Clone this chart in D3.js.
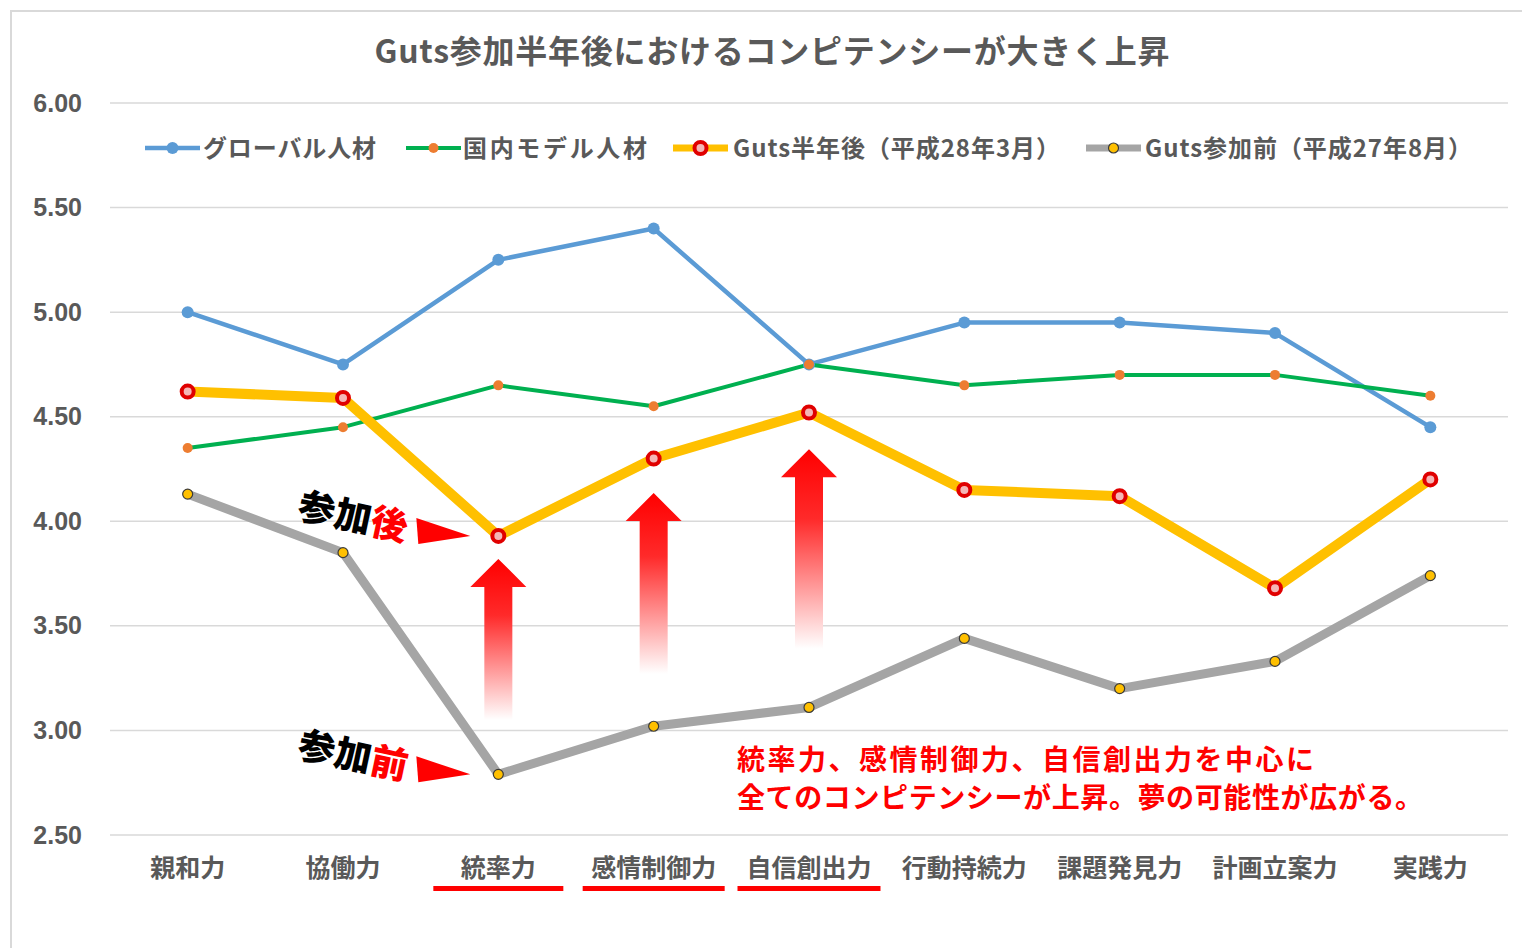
<!DOCTYPE html>
<meta charset="utf-8">
<style>
body { margin: 0; background: #fff; }
text { font-family: "Noto Sans CJK JP", "Noto Sans", sans-serif; }
.grid line { stroke: #d9d9d9; stroke-width: 1.5px; }
.axis-y text { font-family: "Liberation Sans", Arial, sans-serif; font-weight: bold; fill: #595959; font-size: 25px; }
.cat text { font-weight: bold; fill: #595959; font-size: 25px; }
</style>
<svg width="1522" height="948"></svg>
<script src="https://d3js.org/d3.v7.min.js"></script>
<script>

var categories = ["親和力", "協働力", "統率力", "感情制御力", "自信創出力", "行動持続力", "課題発見力", "計画立案力", "実践力"];
var globalTalent = [5.00, 4.75, 5.25, 5.40, 4.75, 4.95, 4.95, 4.90, 4.45];
var domesticTalent = [4.35, 4.45, 4.65, 4.55, 4.75, 4.65, 4.70, 4.70, 4.60];
var gutsAfter = [4.62, 4.59, 3.93, 4.30, 4.52, 4.15, 4.12, 3.68, 4.20];
var gutsBefore = [4.13, 3.85, 2.79, 3.02, 3.11, 3.44, 3.20, 3.33, 3.74];
var yTicks = [2.5, 3.0, 3.5, 4.0, 4.5, 5.0, 5.5, 6.0];
var highlighted = ["統率力", "感情制御力", "自信創出力"];

var svg = d3.select("svg");

// outer frame
svg.append("path")
    .attr("d", "M11,948V11H1522")
    .attr("fill", "none")
    .attr("stroke", "#d9d9d9")
    .attr("stroke-width", 2);

var x = d3.scaleBand().domain(categories).range([110, 1508]);
var y = d3.scaleLinear().domain([2.5, 6]).range([835, 103]);

svg.append("text")
    .attr("x", 772).attr("y", 63)
    .attr("text-anchor", "middle")
    .attr("fill", "#595959")
    .attr("font-size", 32)
    .attr("font-weight", "bold")
    .attr("textLength", 795)
    .text("Guts参加半年後におけるコンピテンシーが大きく上昇");

svg.append("g").attr("class", "grid")
  .selectAll("line").data(yTicks).enter().append("line")
    .attr("x1", 110).attr("x2", 1508)
    .attr("y1", function(d) { return y(d); })
    .attr("y2", function(d) { return y(d); });

var yAxis = svg.append("g").attr("class", "axis-y")
    .attr("transform", "translate(82,0)")
    .call(d3.axisLeft(y).tickValues(yTicks).tickFormat(d3.format(".2f")).tickSize(0).tickPadding(0));
yAxis.select(".domain").remove();

var xAxis = svg.append("g").attr("class", "cat")
    .attr("transform", "translate(0,868)")
    .call(d3.axisBottom(x).tickSize(0).tickPadding(0));
xAxis.select(".domain").remove();
xAxis.selectAll("text").attr("dy", "0.35em");

// red underlines
var underWidth = [130, 142, 143];
svg.selectAll("rect.under").data(highlighted).enter().append("rect")
    .attr("class", "under")
    .attr("x", function(d, i) { return x(d) + x.bandwidth() / 2 - underWidth[i] / 2; })
    .attr("y", 886)
    .attr("width", function(d, i) { return underWidth[i]; })
    .attr("height", 5)
    .attr("fill", "#ff0000");

var series = [
  {name: "グローバル人材", values: globalTalent, color: "#5b9bd5", width: 4.5, r: 6, mfill: "#5b9bd5", mstroke: "#5b9bd5", msw: 0},
  {name: "国内モデル人材", values: domesticTalent, color: "#00b050", width: 4, r: 5, mfill: "#ed7d31", mstroke: "#ed7d31", msw: 0},
  {name: "Guts半年後（平成28年3月）", values: gutsAfter, color: "#ffc000", width: 10, r: 6, mfill: "#f4b6b6", mstroke: "#e00000", msw: 4},
  {name: "Guts参加前（平成27年8月）", values: gutsBefore, color: "#a5a5a5", width: 9, r: 5, mfill: "#ffc000", mstroke: "#3a3a3a", msw: 1.2}
];

var line = d3.line()
    .x(function(d, i) { return x(categories[i]) + x.bandwidth() / 2; })
    .y(function(d) { return y(d); });

// gradient arrows
var defs = svg.append("defs");
var grad = defs.append("linearGradient").attr("id", "arrowGrad")
    .attr("x1", 0).attr("y1", 0).attr("x2", 0).attr("y2", 1);
grad.append("stop").attr("offset", "0%").attr("stop-color", "#ff0000");
grad.append("stop").attr("offset", "35%").attr("stop-color", "#ff2a2a");
grad.append("stop").attr("offset", "100%").attr("stop-color", "#ffffff");

var arrows = [
  {cat: "統率力", top: 3.82, bottom: 3.05},
  {cat: "感情制御力", top: 4.135, bottom: 3.27},
  {cat: "自信創出力", top: 4.345, bottom: 3.39}
];
svg.selectAll("path.up").data(arrows).enter().append("path")
    .attr("class", "up")
    .attr("fill", "url(#arrowGrad)")
    .attr("d", function(d) {
      var cx = x(d.cat) + x.bandwidth() / 2, t = y(d.top), b = y(d.bottom);
      return "M" + cx + "," + t + "L" + (cx + 28) + "," + (t + 28) + "L" + (cx + 14) + "," + (t + 28) +
             "L" + (cx + 14) + "," + b + "L" + (cx - 14) + "," + b + "L" + (cx - 14) + "," + (t + 28) +
             "L" + (cx - 28) + "," + (t + 28) + "Z";
    });

series.forEach(function(s) {
  svg.append("path")
      .datum(s.values)
      .attr("fill", "none")
      .attr("stroke", s.color)
      .attr("stroke-width", s.width)
      .attr("stroke-linejoin", "round")
      .attr("d", line);
});
series.forEach(function(s) {
  svg.append("g").selectAll("circle").data(s.values).enter().append("circle")
      .attr("cx", function(d, i) { return x(categories[i]) + x.bandwidth() / 2; })
      .attr("cy", function(d) { return y(d); })
      .attr("r", s.r)
      .attr("fill", s.mfill)
      .attr("stroke", s.mstroke)
      .attr("stroke-width", s.msw);
});

// legend
var legendPos = [{x: 145, tx: 203, tl: 173}, {x: 406, tx: 463, tl: 184}, {x: 673, tx: 733, tl: 327}, {x: 1086, tx: 1145, tl: 327}];
var legend = svg.append("g").selectAll("g").data(series).enter().append("g")
    .attr("transform", function(d, i) { return "translate(" + legendPos[i].x + ",148)"; });
legend.append("line")
    .attr("x1", 0).attr("x2", 55)
    .attr("stroke", function(d) { return d.color; })
    .attr("stroke-width", function(d) { return Math.min(d.width, 7); });
legend.append("circle")
    .attr("cx", 27.5)
    .attr("r", function(d) { return d.r; })
    .attr("fill", function(d) { return d.mfill; })
    .attr("stroke", function(d) { return d.mstroke; })
    .attr("stroke-width", function(d) { return d.msw; });
legend.append("text")
    .attr("x", function(d, i) { return legendPos[i].tx - legendPos[i].x; })
    .attr("dy", "0.36em")
    .attr("font-size", 24)
    .attr("font-weight", "bold")
    .attr("fill", "#595959")
    .attr("textLength", function(d, i) { return legendPos[i].tl; })
    .text(function(d) { return d.name; });

// 参加後 / 参加前 labels
var notes = [
  {value: 3.93, ty: 518, main: "参加", tail: "後"},
  {value: 2.79, ty: 757, main: "参加", tail: "前"}
];
var note = svg.append("g").selectAll("g").data(notes).enter().append("g");
note.append("text")
    .attr("transform", function(d) { return "translate(296," + d.ty + ") rotate(12)"; })
    .attr("font-size", 37)
    .attr("font-weight", 900)
    .attr("stroke", "#fff")
    .attr("stroke-width", 1)
    .attr("paint-order", "stroke")
    .each(function(d) {
      var t = d3.select(this);
      t.append("tspan").attr("fill", "#000").text(d.main);
      t.append("tspan").attr("fill", "#ff0000").text(d.tail);
    });
note.append("path")
    .attr("fill", "#ff0000")
    .attr("d", function(d) {
      var tipX = x("統率力") + x.bandwidth() / 2 - 28, tipY = y(d.value);
      return "M" + tipX + "," + tipY + "L" + (tipX - 54) + "," + (tipY - 18) + "L" + (tipX - 52) + "," + (tipY + 8) + "Z";
    });

var msg = ["統率力、感情制御力、自信創出力を中心に", "全てのコンピテンシーが上昇。夢の可能性が広がる。"];
svg.append("g").selectAll("text").data(msg).enter().append("text")
    .attr("x", 737)
    .attr("y", function(d, i) { return 770 + i * 38; })
    .attr("font-size", 28)
    .attr("font-weight", "bold")
    .attr("fill", "#ff0000")
    .attr("textLength", function(d, i) { return i === 0 ? 577 : 686; })
    .text(function(d) { return d; });

</script>
